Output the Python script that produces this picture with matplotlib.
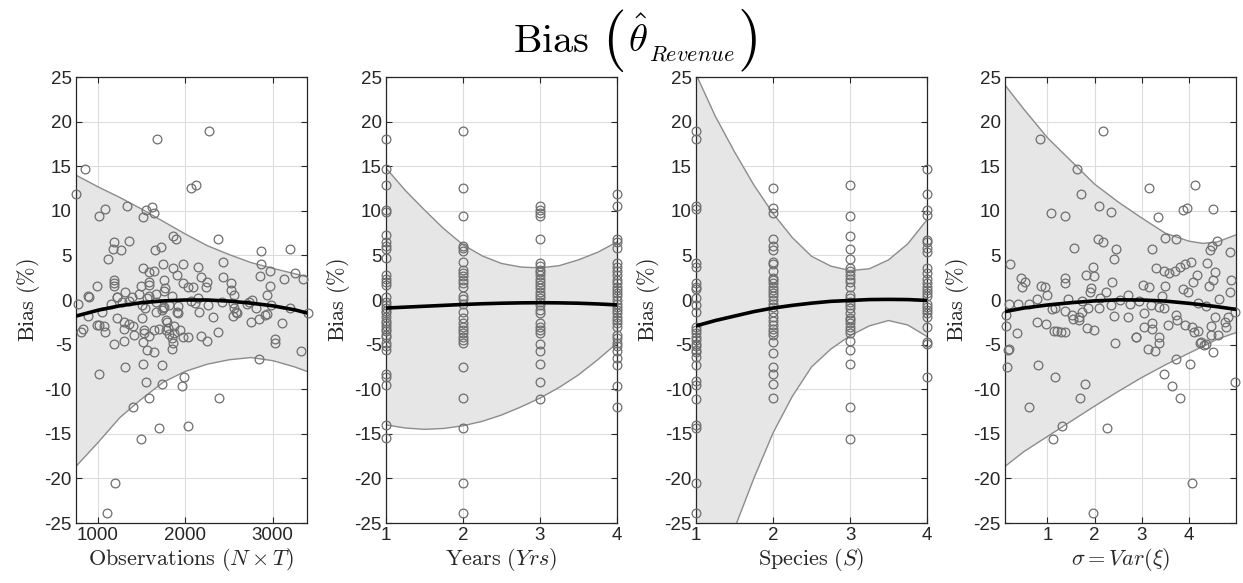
import matplotlib
matplotlib.use("Agg")
import matplotlib.pyplot as plt
import numpy as np

plt.rcParams['mathtext.fontset'] = 'cm'
plt.rcParams['font.family'] = ['Liberation Sans', 'DejaVu Sans']
plt.rcParams['axes.unicode_minus'] = False

# ---- panel 1: observations (N x T) ----
obs_x = [750, 859, 1682, 2269, 2067, 2120, 1019, 1084, 1328, 1549, 1621, 1644, 1514,
         1186, 1179, 1262, 1361, 1118, 1655, 1727, 1864, 1891, 2375, 2863, 3198, 2428, 2863,
         1979, 1742, 1518, 1590, 1643, 1857, 1910, 2146, 2181, 2436, 2855, 2966, 3129, 3251,
         3343, 1590, 1582, 1186, 1186, 1186, 988, 1491, 1758, 1765, 1979, 2036, 2089, 2238,
         2245, 2520, 2520, 2558, 2973, 2939, 1308, 1396, 1472, 1590, 1666, 1758, 1849, 1224,
         893, 779, 1049, 1156, 1281, 1358, 1510, 1540, 1663, 1739, 1758, 1815, 1910, 1918,
         2063, 2112, 2150, 2264, 2417, 2561, 2577, 2550, 2729, 2767, 2805, 2931, 2977, 3198,
         3400, 2318, 2162, 2748, 2843, 3102, 893, 996, 1010, 805, 832, 1080, 1224, 1300, 1361,
         1407, 1510, 1529, 1643, 1704, 1788, 1803, 1872, 1872, 1941, 1979, 2032, 2181, 2253,
         2375, 1853, 1857, 1849, 1518, 1300, 1415, 1186, 1563, 1643, 3030, 3030, 3327, 2847,
         1667, 1747, 2550, 2703, 2592, 2913, 1076, 1777, 1918, 1587, 1530, 1297, 1785, 1812,
         1564, 1217, 897,
         1735, 1514, 1316, 1011, 1983, 1968, 1552, 1731, 1583, 1400, 2383, 1705, 2036, 1499,
         1194, 1110]
obs_y = [11.85, 14.7, 18.05, 19.0, 12.6, 12.85, 9.4, 10.2, 10.5, 10.1, 10.4, 9.8, 9.35,
         6.47, 5.72, 5.57, 6.65, 4.6, 5.64, 5.94, 7.2, 6.84, 6.8, 5.46, 5.76, 4.26, 4.0,
         4.0, 4.0, 3.55, 3.14, 3.3, 3.55, 2.8, 3.66, 2.62, 2.62, 2.69, 3.2, 2.4, 3.0,
         2.36, 2.06, 1.68, 2.24, 1.91, 1.61, 1.57, 1.53, 2.24, 1.31, 1.87, 1.5, 1.5, 1.5,
         2.06, 1.91, 1.16, 0.6, 1.53, 0.56, 0.9, 0.3, 0.64, 0.41, 0.64, 1.01, 0.45, 0.34,
         0.41, -0.41, -1.3, -0.48, -0.26, -0.11, -0.56, -0.93, -1.38, -1.12, -0.82, -0.6, -1.38, -0.63,
         -0.15, -0.37, 0.19, -0.6, -0.26, -0.89, -1.38, -1.75, -0.26, 0.0, -0.93, -1.6, -0.56, -0.93,
         -1.5, -1.87, -1.3, -2.42, -2.13, -2.61, -1.79, -2.8, -2.85, -3.55, -3.25, -3.55, -1.98, -2.43, -2.65,
         -2.91, -2.05, -3.36, -3.36, -3.29, -2.43, -3.17, -2.87, -3.73, -3.36, -4.11, -4.11, -3.99, -4.56,
         -3.62, -4.3, -4.86, -5.49, -4.67, -4.56, -3.92, -4.97, -5.64, -5.86, -4.41, -4.86, -5.68, -6.61,
         -0.22, -0.93, -0.37, -0.5, -1.42, -1.72, -2.88, -2.28, -1.5, -4.07, -3.66, -3.2, -3.36, -3.85,
         0.26, 0.37, 0.37,
         -7.24, -7.2, -7.5, -8.28, -8.58, -9.59, -9.2, -9.44, -11.0, -12.0, -10.97, -14.3, -14.07, -15.56,
         -20.5, -23.9]
obs_grid = [750, 1000, 1250, 1500, 1750, 2000, 2250, 2500, 2750, 3000, 3250, 3390]
obs_upper = [14.0, 12.7, 11.5, 10.2, 8.8, 7.4, 6.1, 5.1, 4.2, 3.55, 2.95, 2.6]
obs_lower = [-18.66, -16.0, -13.2, -11.1, -9.2, -8.0, -7.2, -6.7, -6.45, -6.8, -7.5, -8.0]
obs_fit = [-1.8, -1.15, -0.65, -0.3, -0.1, 0.0, 0.0, -0.12, -0.35, -0.65, -1.1, -1.45]

# ---- panel 2: years ----
yrs_1 = [18.1, 14.7, 12.9, 10.1, 9.9, 7.3, 6.5, 6.0, 5.7, 4.7, 2.8, 2.4, 2.0, 1.7, 0.3, -0.2,
         -0.6, -0.9, -1.2, -1.5, -1.9, -2.3, -2.6, -2.9, -3.2, -3.5, -3.9, -4.2, -4.8, -5.2, -5.6,
         -8.3, -8.6, -9.5, -14.0, -15.5]
yrs_2 = [19.0, 12.6, 9.4, 6.1, 5.8, 5.5, 4.3, 3.4, 3.0, 2.7, 2.2, 1.9, 1.5, 0.4, 0.1, -0.4,
         -1.3, -2.0, -2.6, -3.0, -3.4, -3.7, -4.1, -4.5, -4.8, -7.5, -11.0, -14.3, -20.5, -23.9]
yrs_3 = [10.5, 10.1, 9.7, 9.4, 6.8, 4.2, 3.8, 3.4, 3.1, 2.8, 2.4, 2.0, 1.7, 1.3, 0.9, 0.6, 0.2,
         -0.2, -0.6, -1.1, -1.5, -2.6, -3.0, -3.4, -3.7, -4.9, -5.7, -7.2, -9.2, -11.1]
yrs_4 = [11.9, 10.5, 6.8, 6.5, 5.8, 4.2, 3.7, 3.3, 2.8, 2.2, 1.9, 1.5, 1.1, 0.8, 0.4, 0.0, -0.4,
         -0.8, -1.1, -1.5, -1.9, -2.2, -2.6, -3.0, -3.9, -4.3, -4.8, -5.2, -5.7, -6.5, -7.3, -9.6, -12.0]
yrs_grid = [1, 1.25, 1.5, 1.75, 2, 2.25, 2.5, 2.75, 3, 3.25, 3.5, 3.75, 4]
yrs_upper = [14.8, 12.3, 10.1, 8.0, 6.2, 4.95, 4.1, 3.7, 3.6, 3.85, 4.5, 5.35, 6.5]
yrs_lower = [-14.0, -14.35, -14.5, -14.4, -14.1, -13.6, -12.9, -12.0, -11.0, -9.8, -8.4, -6.7, -4.85]
yrs_fit = [-0.9, -0.8, -0.7, -0.6, -0.5, -0.42, -0.36, -0.32, -0.3, -0.32, -0.36, -0.44, -0.55]

# ---- panel 3: species ----
spc_1 = [19.0, 18.1, 10.5, 10.2, 4.1, 3.7, 1.9, 1.5, 1.2, 0.2, -0.6, -1.3, -3.0, -3.4, -3.7, -4.1,
         -4.5, -4.9, -5.2, -5.6, -5.8, -6.4, -7.3, -9.1, -9.5, -11.1, -14.0, -14.3, -20.5, -23.9]
spc_2 = [12.6, 10.3, 9.7, 6.8, 6.0, 5.6, 4.3, 4.0, 3.2, 2.5, 2.2, 1.9, 1.5, 1.1, 0.8, 0.4, 0.0,
         -0.4, -0.8, -1.3, -1.9, -2.4, -2.8, -3.2, -3.6, -3.9, -4.7, -5.9, -7.5, -8.3, -9.4, -11.0]
spc_3 = [12.9, 9.4, 7.2, 5.7, 4.6, 3.6, 3.2, 2.8, 2.4, 2.0, 1.5, 0.6, 0.2, -0.2, -0.6, -0.9,
         -1.5, -2.0, -2.2, -2.6, -3.0, -3.4, -3.7, -4.6, -5.6, -7.2, -12.0, -15.6]
spc_4 = [14.7, 11.9, 10.1, 9.5, 6.7, 6.5, 5.8, 5.4, 3.6, 3.0, 2.4, 1.9, 1.5, 1.1, 0.8, 0.4,
         -0.4, -0.8, -1.1, -1.5, -1.9, -3.0, -4.7, -4.9, -8.6]
spc_grid = [1, 1.25, 1.5, 1.75, 2, 2.25, 2.5, 2.75, 3, 3.25, 3.5, 3.75, 4]
spc_upper = [25.3, 20.6, 16.6, 12.9, 9.7, 7.0, 4.9, 3.8, 3.3, 3.5, 4.5, 6.3, 9.0]
spc_lower = [-38.0, -31.5, -25.6, -20.0, -14.9, -10.8, -7.5, -5.5, -4.0, -2.9, -2.3, -2.8, -4.1]
spc_fit = [-2.9, -2.3, -1.8, -1.3, -0.9, -0.6, -0.35, -0.15, -0.05, 0.05, 0.07, 0.05, -0.05]

# ---- panel 4: sigma = Var(xi) ----
sig_x = [0.85, 2.18, 1.62, 1.71, 2.10, 2.34, 1.07, 1.37, 3.16, 4.13, 4.51, 3.88, 3.97, 3.35,
         0.21, 1.56, 2.08, 2.17, 2.45, 2.41, 3.22, 3.50, 3.73, 4.59, 4.50, 4.44, 4.87, 3.31,
         3.48, 3.59, 3.70, 3.81, 3.92, 4.04, 4.39, 4.18, 4.55, 4.51, 4.43, 4.89, 4.87, 1.97,
         1.99, 1.81, 2.38, 1.93, 1.91, 2.25, 2.12, 2.55, 2.71, 3.02, 3.15, 3.49, 3.43, 3.87,
         3.98, 4.10, 0.44, 0.53, 0.46, 0.86, 0.95, 0.99, 1.37, 1.37, 1.44, 0.78, 0.60, 0.37,
         0.18, 0.12, 0.12, 0.35, 0.19, 0.78, 0.98, 1.09, 1.17, 1.38, 1.52, 1.55, 1.67, 1.67,
         1.13, 1.20, 1.28, 1.37, 1.87, 1.83, 1.99, 2.42, 2.43, 2.72, 2.89, 3.06, 3.05, 3.22,
         3.23, 3.36, 3.13, 3.28, 3.36, 3.47, 3.55, 3.73, 3.75, 3.92, 4.06, 4.11, 4.20, 4.23,
         4.33, 4.48, 4.56, 4.48, 4.61, 4.78, 4.77, 4.84, 4.98, 4.20, 4.36, 4.65, 3.20, 3.37,
         2.95, 2.75, 2.34, 2.09, 1.74, 1.74,
         0.17, 0.14, 0.81, 0.62, 1.17, 1.12, 1.32, 1.80, 1.70, 2.27, 1.97, 2.88, 3.47,
         3.64, 3.73, 3.82, 4.03, 4.07, 4.51, 4.98, 4.26, 4.36]
sig_y = [18.05, 19.0, 14.7, 11.85, 10.5, 9.9, 9.8, 9.45, 12.6, 12.85, 10.2, 10.1, 10.35, 9.35,
         4.0, 5.8, 6.84, 6.46, 5.7, 4.56, 5.75, 7.0, 6.84, 6.65, 6.05, 5.6, 5.4, 3.55,
         3.2, 3.0, 3.3, 3.66, 4.0, 4.26, 4.1, 2.8, 3.14, 2.24, 1.57, 2.24, 0.93, 3.66,
         2.7, 2.8, 2.0, 1.3, 0.86, 0.86, 0.26, 0.0, 0.56, 1.68, 1.5, 1.6, 0.45, 1.2,
         0.93, 2.05, 2.43, 2.05, 1.5, 1.57, 1.5, 0.52, 2.43, 1.94, 0.15, 0.07, -0.45, -0.49,
         -0.49, -1.7, -2.9, -3.66, -5.5, -2.5, -2.7, -1.0, -0.93, -1.2, -1.68, -2.17, -1.87, -2.24,
         -3.44, -3.44, -3.62, -3.62, -0.9, -3.18, -3.36, -1.76, -4.86, -1.87, -4.1, -1.5, -3.0, -2.6,
         -3.3, -4.1, -5.5, -5.76, -4.86, -0.93, -2.8, -1.68, -2.24, -2.8, -3.0, -3.55, -3.44, -4.78,
         -5.05, -2.95, -1.87, -3.92, -3.96, -3.0, -2.43, -1.87, -1.3, -0.37, -0.67, 0.07, -0.56, -0.75,
         -0.07, -0.49, -0.56, -0.93, -1.3, -0.1,
         -5.6, -7.46, -7.24, -11.94, -8.58, -15.56, -14.07, -9.4, -11.04, -14.3, -23.88, -4.18, -8.28,
         -9.63, -6.57, -10.97, -7.2, -20.5, -5.86, -9.2, -4.7, -4.9]
sig_grid = [0.1, 0.5, 1, 1.5, 2, 2.5, 3, 3.5, 4, 4.3, 4.6, 5]
sig_upper = [24.1, 21.4, 18.2, 15.6, 13.0, 11.0, 9.2, 7.5, 6.6, 6.35, 6.5, 7.3]
sig_lower = [-18.66, -17.0, -15.3, -13.6, -11.9, -10.26, -8.7, -7.28, -5.97, -5.2, -4.4, -3.66]
sig_fit = [-1.3, -0.9, -0.56, -0.3, -0.1, 0.02, 0.0, -0.12, -0.37, -0.55, -0.75, -1.05]

yrs_x = np.concatenate([np.full(len(v), k + 1.0) for k, v in enumerate([yrs_1, yrs_2, yrs_3, yrs_4])])
yrs_y = np.concatenate([yrs_1, yrs_2, yrs_3, yrs_4])
spc_x = np.concatenate([np.full(len(v), k + 1.0) for k, v in enumerate([spc_1, spc_2, spc_3, spc_4])])
spc_y = np.concatenate([spc_1, spc_2, spc_3, spc_4])

panels = [
    (obs_x, obs_y, obs_grid, obs_upper, obs_lower, obs_fit, (750, 3390), [1000, 2000, 3000],
     r'$\mathrm{Observations}\ (N \times T)$'),
    (yrs_x, yrs_y, yrs_grid, yrs_upper, yrs_lower, yrs_fit, (1, 4), [1, 2, 3, 4],
     r'$\mathrm{Years}\ (Yrs)$'),
    (spc_x, spc_y, spc_grid, spc_upper, spc_lower, spc_fit, (1, 4), [1, 2, 3, 4],
     r'$\mathrm{Species}\ (S)$'),
    (sig_x, sig_y, sig_grid, sig_upper, sig_lower, sig_fit, (0.1, 5), [1, 2, 3, 4],
     r'$\sigma = Var(\xi)$'),
]

fig = plt.figure(figsize=(12.43, 5.83), dpi=100)
lefts = [0.0611, 0.3105, 0.560, 0.8085]
edge = '#262626'
for left, (px, py, gx, gu, gl, gf, xl, xt, xlab) in zip(lefts, panels):
    ax = fig.add_axes([left, 0.1029, 0.1858, 0.765])
    ax.fill_between(gx, gl, gu, facecolor='#e6e6e6', edgecolor='none', zorder=1)
    ax.plot(gx, gu, color='#8c8c8c', lw=1.0, zorder=2)
    ax.plot(gx, gl, color='#8c8c8c', lw=1.0, zorder=2)
    ax.plot(px, py, 'o', mfc='none', mec='#6e6e6e', ms=6.3, mew=0.9, zorder=3, clip_on=False)
    ax.plot(gx, gf, color='black', lw=2.6, zorder=4)
    ax.set_xlim(*xl)
    ax.set_ylim(-25, 25)
    ax.set_xticks(xt)
    ax.set_yticks(range(-25, 26, 5))
    ax.grid(True, color='#dcdcdc', lw=0.8, zorder=0)
    ax.set_axisbelow(True)
    ax.tick_params(direction='in', top=True, right=True, length=4, width=0.8,
                   colors=edge, labelsize=13.5, pad=3)
    for s in ax.spines.values():
        s.set_color(edge)
        s.set_linewidth(0.9)
    ax.set_xlabel(xlab, fontsize=16, color=edge, labelpad=1)
    ax.set_ylabel(r'$\mathrm{Bias}\ (\%)$', fontsize=16, color=edge, labelpad=2)

# title, with tall brackets as in the LaTeX original
fig.text(0.4745, 0.911, r'$\mathrm{Bias}$', ha='right', va='baseline', fontsize=29)
fig.text(0.4935, 0.904, r'$($', ha='center', va='baseline', fontsize=44)
fig.text(0.505, 0.911, r'$\hat{\theta}$', ha='left', va='baseline', fontsize=28)
fig.text(0.522, 0.897, r'$Revenue$', ha='left', va='baseline', fontsize=16)
fig.text(0.6005, 0.904, r'$)$', ha='center', va='baseline', fontsize=44)

fig.savefig('out.png', dpi=100)
